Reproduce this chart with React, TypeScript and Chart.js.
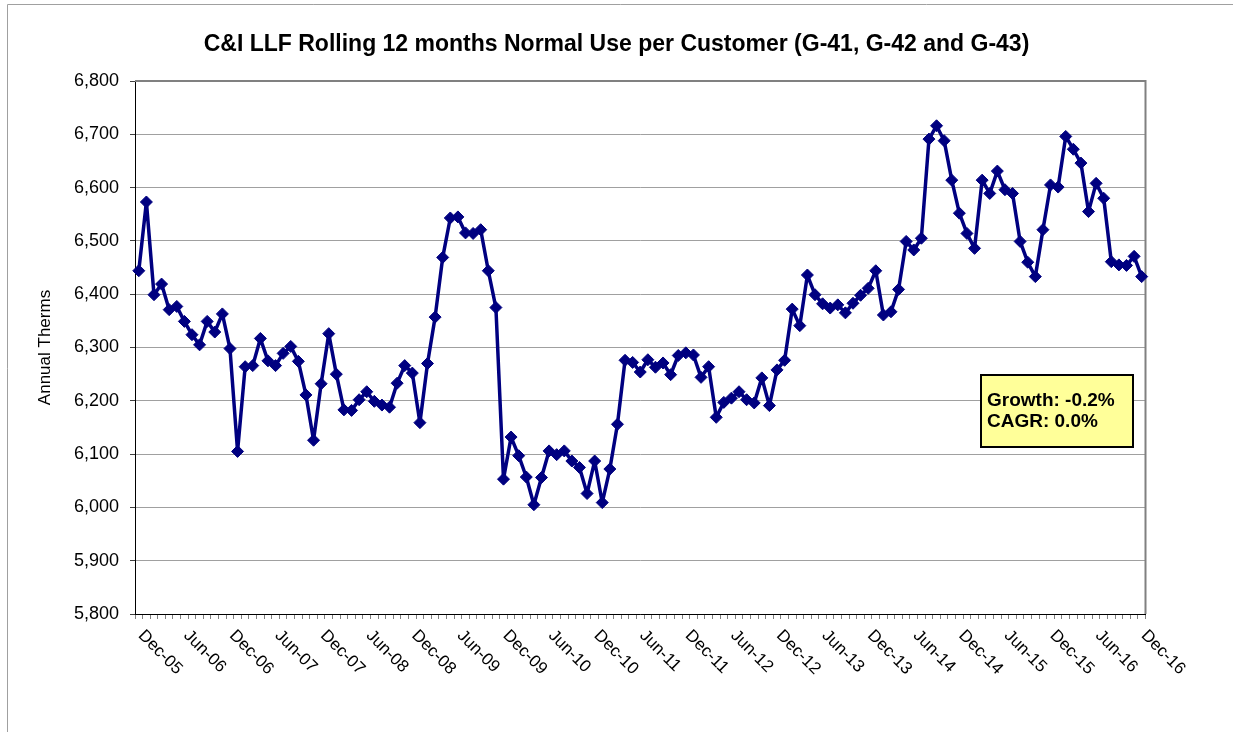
import React, { useEffect, useRef } from 'react';
import { Chart, registerables } from 'chart.js';

Chart.register(...registerables);

const TITLE = 'C&I LLF Rolling 12 months Normal Use per Customer (G-41, G-42 and G-43)';
const Y_TITLE = 'Annual Therms';
const NOTE_LINES = ['Growth: -0.2%', 'CAGR: 0.0%'];

// Monthly values, Dec-05 .. Dec-16
const VALUES: number[] = [
  6444, 6573, 6399, 6419, 6371, 6377, 6349, 6324, 6305, 6349, 6329, 6363,
  6298, 6105, 6264, 6266, 6317, 6275, 6266, 6289, 6302, 6274, 6211, 6126,
  6232, 6326, 6250, 6183, 6182, 6202, 6217, 6199, 6192, 6188, 6233, 6266,
  6252, 6159, 6270, 6357, 6469, 6543, 6545, 6515, 6514, 6521, 6444, 6375,
  6053, 6132, 6097, 6057, 6005, 6056, 6106, 6099, 6106, 6087, 6075, 6026,
  6087, 6009, 6072, 6156, 6276, 6272, 6254, 6277, 6263, 6271, 6249, 6285,
  6290, 6286, 6244, 6264, 6169, 6197, 6205, 6217, 6202, 6196, 6243, 6191,
  6258, 6276, 6372, 6341, 6436, 6399, 6382, 6374, 6380, 6365, 6383, 6398,
  6411, 6444, 6361, 6367, 6409, 6499, 6483, 6505, 6691, 6716, 6688, 6614,
  6552, 6514, 6486, 6614, 6589, 6631, 6596, 6589, 6499, 6460, 6433, 6521,
  6605, 6601, 6696, 6672, 6646, 6555, 6608, 6580, 6461, 6455, 6454, 6471,
  6433,
];

const MONTHS = ['Jan', 'Feb', 'Mar', 'Apr', 'May', 'Jun', 'Jul', 'Aug', 'Sep', 'Oct', 'Nov', 'Dec'];
const START_MONTH = 11; // December
const START_YEAR = 2005;

const CATEGORIES: string[] = VALUES.map((_, i) => {
  const m = (START_MONTH + i) % 12;
  const y = START_YEAR + Math.floor((START_MONTH + i) / 12);
  return `${MONTHS[m]}-${String(y % 100).padStart(2, '0')}`;
});

const X_TICK_LABELS = [
  'Dec-05', 'Jun-06', 'Dec-06', 'Jun-07', 'Dec-07', 'Jun-08', 'Dec-08', 'Jun-09',
  'Dec-09', 'Jun-10', 'Dec-10', 'Jun-11', 'Dec-11', 'Jun-12', 'Dec-12', 'Jun-13',
  'Dec-13', 'Jun-14', 'Dec-14', 'Jun-15', 'Dec-15', 'Jun-16', 'Dec-16',
];

const Y_MIN = 5800;
const Y_MAX = 6800;
const Y_STEP = 100;

const FONT = '"Liberation Sans", Arial, Helvetica, sans-serif';
const NAVY = '#000080';

const framePlugin = {
  id: 'frame',
  beforeDraw(chart: any) {
    const { ctx } = chart;
    ctx.save();
    ctx.strokeStyle = '#a0a0a0';
    ctx.lineWidth = 1;
    ctx.beginPath();
    ctx.moveTo(7.5, 732);
    ctx.lineTo(7.5, 4.5);
    ctx.lineTo(1233, 4.5);
    ctx.stroke();
    ctx.restore();
  },
  beforeDatasetsDraw(chart: any) {
    const { ctx, chartArea } = chart;
    ctx.save();
    ctx.strokeStyle = '#808080';
    ctx.lineWidth = 2;
    ctx.beginPath();
    ctx.moveTo(chartArea.left, chartArea.top);
    ctx.lineTo(chartArea.right, chartArea.top);
    ctx.lineTo(chartArea.right, chartArea.bottom);
    ctx.stroke();
    ctx.restore();
  },
};

const xLabelsPlugin = {
  id: 'xLabels',
  afterDraw(chart: any) {
    const { ctx } = chart;
    const xs = chart.scales.x;
    ctx.save();
    ctx.font = `17px ${FONT}`;
    ctx.fillStyle = '#000';
    ctx.textAlign = 'left';
    ctx.textBaseline = 'top';
    X_TICK_LABELS.forEach((lbl) => {
      const idx = CATEGORIES.indexOf(lbl);
      if (idx < 0) return;
      const x = xs.getPixelForValue(idx);
      ctx.save();
      ctx.translate(x + 8, xs.top + 13);
      ctx.rotate(Math.PI / 4);
      ctx.fillText(lbl, 0, 0);
      ctx.restore();
    });
    ctx.restore();
  },
};

const notePlugin = {
  id: 'note',
  afterDraw(chart: any) {
    const { ctx } = chart;
    ctx.save();
    ctx.fillStyle = '#ffff99';
    ctx.fillRect(981, 375, 152, 72);
    ctx.strokeStyle = '#000';
    ctx.lineWidth = 2;
    ctx.strokeRect(981, 375, 152, 72);
    ctx.fillStyle = '#000';
    ctx.font = `bold 19px ${FONT}`;
    ctx.textAlign = 'left';
    ctx.textBaseline = 'middle';
    NOTE_LINES.forEach((t, i) => ctx.fillText(t, 987, 401 + i * 21));
    ctx.restore();
  },
};

export default function App() {
  const canvasRef = useRef<HTMLCanvasElement | null>(null);

  useEffect(() => {
    if (!canvasRef.current) return;
    const chart = new Chart(canvasRef.current, {
      type: 'line',
      data: {
        labels: CATEGORIES,
        datasets: [
          {
            data: VALUES,
            borderColor: NAVY,
            backgroundColor: NAVY,
            borderWidth: 3.5,
            borderJoinStyle: 'round',
            borderCapStyle: 'round',
            pointStyle: 'rectRot',
            pointRadius: 6,
            pointBorderWidth: 1,
            pointBackgroundColor: NAVY,
            pointBorderColor: NAVY,
            tension: 0,
            yAxisID: 'y',
          },
        ],
      },
      options: {
        animation: false,
        responsive: true,
        maintainAspectRatio: false,
        devicePixelRatio: 1,
        layout: { padding: { top: 0, left: 0, right: 0, bottom: 0 } },
        plugins: {
          legend: { display: false },
          tooltip: { enabled: false },
          title: {
            display: true,
            text: TITLE,
            color: '#000',
            font: { family: FONT, size: 23, weight: 'bold' },
            padding: { top: 31.2, bottom: 22.2 },
          },
        },
        scales: {
          x: {
            type: 'category',
            offset: true,
            grid: {
              offset: true,
              drawOnChartArea: false,
              drawTicks: true,
              tickLength: 5,
              color: '#808080',
            },
            border: { color: '#000', width: 1 },
            ticks: { display: false, autoSkip: false },
            afterFit(s: any) {
              s.height = 118;
            },
          },
          y: {
            min: Y_MIN,
            max: Y_MAX,
            ticks: {
              stepSize: Y_STEP,
              color: '#000',
              font: { family: FONT, size: 18 },
              padding: 11,
              callback: (v: any) => Number(v).toLocaleString('en-US'),
            },
            grid: { color: '#a0a0a0', tickLength: 5, tickColor: '#404040' },
            border: { color: '#000', width: 1 },
            title: {
              display: true,
              text: Y_TITLE,
              color: '#000',
              font: { family: FONT, size: 17 },
              padding: { top: 34.8, bottom: 0 },
            },
            afterFit(s: any) {
              s.width = 135;
            },
          },
          yRight: {
            position: 'right',
            min: 0,
            max: 1,
            grid: { display: false, drawTicks: false },
            border: { display: false },
            ticks: { display: false },
            afterFit(s: any) {
              s.width = 87.5;
            },
          },
        },
      },
      plugins: [framePlugin, xLabelsPlugin, notePlugin],
    } as any);
    return () => chart.destroy();
  }, []);

  return (
    <div style={{ position: 'fixed', left: 0, top: 0, width: 1233, height: 732 }}>
      <canvas ref={canvasRef} />
    </div>
  );
}
